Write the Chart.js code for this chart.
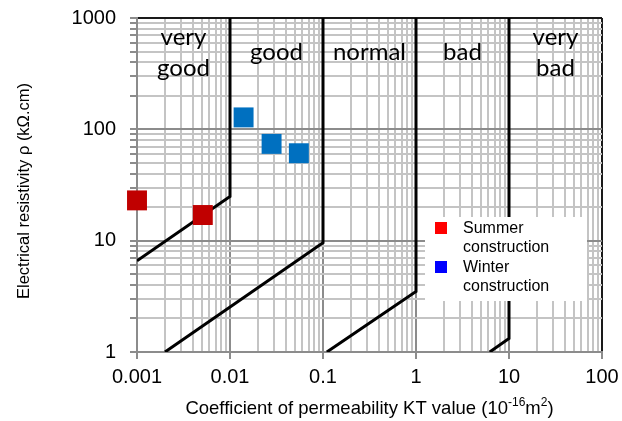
<!DOCTYPE html>
<html>
<head>
<meta charset="utf-8">
<script src="https://cdn.jsdelivr.net/npm/chart.js@4.4.1/dist/chart.umd.min.js"></script>
<style>
  html, body { margin: 0; padding: 0; background: #fff; }
  canvas { display: block; }
</style>
</head>
<body>
<canvas id="chart" width="622" height="421"></canvas>
<script>
// axis decades and their labels
const xDecades = [0.001, 0.01, 0.1, 1, 10, 100];
const xTickLabels = ['0.001', '0.01', '0.1', '1', '10', '100'];
const yDecades = [1, 10, 100, 1000];
const yTickLabels = ['1', '10', '100', '1000'];

// measured specimens
const summerX = [0.001, 0.0051];
const summerY = [23, 17];
const winterX = [0.014, 0.028, 0.055];
const winterY = [128, 74, 61];
const seriesNames = ['Summer construction', 'Winter construction'];

// quality class boundaries (KT, rho)
const boundaryX = [
    [0.001, 0.01, 0.01],
    [0.002, 0.1, 0.1],
    [0.11, 1, 1],
    [6.2, 10, 10]
];
const boundaryY = [
    [6.6, 25, 1000],
    [1, 9.6, 1000],
    [1, 3.5, 1000],
    [1, 1.32, 1000]
];
const zoneLabels = [['very', 'good'], ['good'], ['normal'], ['bad'], ['very', 'bad']];

const markerColors = ['#C00000', '#0070C0'];
const legendColors = ['#FF0000', '#0000FF'];
const FONT = '"Liberation Sans", Arial, sans-serif';

function toPoints(xs, ys) {
    return xs.map((x, i) => ({ x: x, y: ys[i] }));
}

function decadeTicks(decades) {
    const vals = [];
    decades.forEach((d, i) => {
        if (i === decades.length - 1) { vals.push(d); return; }
        for (let k = 1; k <= 9; k++) vals.push(Number((d * k).toPrecision(6)));
    });
    return vals;
}

function decadeIndex(decades, v) {
    return decades.findIndex(d => Math.abs(d - v) / d < 1e-9);
}

function gridOpts(decades) {
    const max = decades[decades.length - 1];
    return {
        color: c => {
            const v = c.tick ? c.tick.value : 0;
            if (Math.abs(v - max) / max < 1e-9) return '#1a1a1a';
            return decadeIndex(decades, v) >= 0 ? '#8c8c8c' : '#c4c4c4';
        },
        lineWidth: 2,
        tickLength: 7
    };
}

// zone names, legend and axis titles
const decorPlugin = {
    id: 'decor',
    afterDatasetsDraw(chart) {
        const ctx = chart.ctx;
        const xs = chart.scales.x;
        ctx.save();
        ctx.fillStyle = '#000';
        ctx.font = '24px Lato, sans-serif';
        ctx.textAlign = 'center';
        ctx.textBaseline = 'alphabetic';
        zoneLabels.forEach((lines, i) => {
            const cx = xs.getPixelForValue(Math.sqrt(xDecades[i] * xDecades[i + 1]));
            lines.forEach((t, j) => {
                const y = lines.length === 1 ? 60 : 45 + j * 31;
                ctx.fillText(t, cx, y);
            });
        });
        ctx.restore();
    },
    afterDraw(chart) {
        const ctx = chart.ctx;
        const area = chart.chartArea;
        ctx.save();

        // legend box
        ctx.fillStyle = '#fff';
        ctx.fillRect(425, 217, 162, 84);
        ctx.font = '16px ' + FONT;
        ctx.textAlign = 'left';
        ctx.textBaseline = 'alphabetic';
        seriesNames.forEach((name, i) => {
            const top = 222 + i * 39;
            ctx.fillStyle = legendColors[i];
            ctx.fillRect(435, top, 12, 12);
            ctx.fillStyle = '#000';
            name.split(' ').forEach((w, j) => {
                ctx.fillText(w, 463, top + 11 + j * 19);
            });
        });

        // x title with superscripts
        const parts = [
            ['Coefficient of permeability KT value (10', false],
            ['-16', true],
            ['m', false],
            ['2', true],
            [')', false]
        ];
        const mainFont = '18.5px ' + FONT;
        const supFont = '12px ' + FONT;
        let total = 0;
        parts.forEach(p => {
            ctx.font = p[1] ? supFont : mainFont;
            total += ctx.measureText(p[0]).width;
        });
        let x = (area.left + area.right) / 2 - total / 2;
        const base = 414;
        parts.forEach(p => {
            ctx.font = p[1] ? supFont : mainFont;
            ctx.fillText(p[0], x, p[1] ? base - 8 : base);
            x += ctx.measureText(p[0]).width;
        });

        // y title
        ctx.translate(24, 191);
        ctx.rotate(-Math.PI / 2);
        ctx.font = '16.5px ' + FONT;
        ctx.textAlign = 'center';
        ctx.textBaseline = 'middle';
        ctx.fillText('Electrical resistivity \u03c1 (k\u03a9.cm)', 0, 0);
        ctx.restore();
    }
};

const datasets = [
    {
        label: seriesNames[0],
        data: toPoints(summerX, summerY),
        pointStyle: 'rect',
        pointRadius: 14.1,
        backgroundColor: markerColors[0],
        borderColor: markerColors[0],
        borderWidth: 0,
        showLine: false,
        clip: false
    },
    {
        label: seriesNames[1],
        data: toPoints(winterX, winterY),
        pointStyle: 'rect',
        pointRadius: 14.1,
        backgroundColor: markerColors[1],
        borderColor: markerColors[1],
        borderWidth: 0,
        showLine: false,
        clip: false
    }
];
boundaryX.forEach((xs, i) => {
    datasets.push({
        label: 'boundary ' + (i + 1),
        data: toPoints(xs, boundaryY[i]),
        showLine: true,
        borderColor: '#000',
        borderWidth: 3,
        pointRadius: 0,
        tension: 0,
        fill: false
    });
});

new Chart(document.getElementById('chart'), {
    type: 'scatter',
    data: { datasets: datasets },
    options: {
        responsive: false,
        animation: false,
        events: [],
        layout: { padding: { top: 18, right: 20, left: 0, bottom: 0 } },
        plugins: {
            legend: { display: false },
            tooltip: { enabled: false }
        },
        scales: {
            x: {
                type: 'logarithmic',
                min: xDecades[0],
                max: xDecades[xDecades.length - 1],
                afterBuildTicks: s => { s.ticks = decadeTicks(xDecades).map(v => ({ value: v })); },
                afterFit: s => { s.height = 69; s.paddingLeft = 0; s.paddingRight = 0; },
                ticks: {
                    autoSkip: false,
                    maxRotation: 0,
                    padding: 6,
                    color: '#000',
                    font: { family: FONT, size: 20 },
                    callback: v => {
                        const i = decadeIndex(xDecades, v);
                        return i >= 0 ? xTickLabels[i] : '';
                    }
                },
                grid: Object.assign(gridOpts(xDecades), {
                    tickColor: c => decadeIndex(xDecades, c.tick.value) >= 0 ? '#8c8c8c' : 'rgba(0,0,0,0)'
                }),
                border: { color: '#8c8c8c', width: 2 }
            },
            y: {
                type: 'logarithmic',
                min: yDecades[0],
                max: yDecades[yDecades.length - 1],
                afterBuildTicks: s => { s.ticks = decadeTicks(yDecades).map(v => ({ value: v })); },
                afterFit: s => { s.width = 137; s.paddingTop = 0; s.paddingBottom = 0; },
                ticks: {
                    autoSkip: false,
                    padding: 14,
                    color: '#000',
                    font: { family: FONT, size: 20 },
                    callback: v => {
                        const i = decadeIndex(yDecades, v);
                        return i >= 0 ? yTickLabels[i] : '';
                    }
                },
                grid: Object.assign(gridOpts(yDecades), { tickColor: '#8c8c8c' }),
                border: { color: '#8c8c8c', width: 2 }
            }
        }
    },
    plugins: [decorPlugin]
});
</script>
</body>
</html>
